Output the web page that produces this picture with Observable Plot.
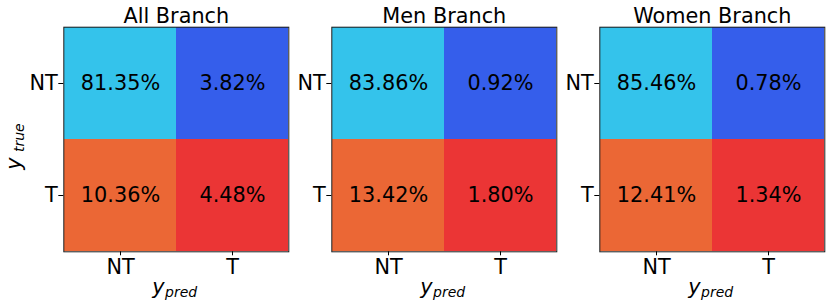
<!DOCTYPE html>
<html><head><meta charset="utf-8">
<script src="https://cdn.jsdelivr.net/npm/d3@7"></script>
<script src="https://cdn.jsdelivr.net/npm/@observablehq/plot@0.6"></script>
<style>
html,body{margin:0;padding:0;background:#fff;}
#chart{position:relative;width:830px;height:307px;overflow:hidden;}
#chart svg{position:absolute;top:0;}
</style></head><body><div id="chart"></div>
<script>
// Data
const branches = ["All Branch", "Men Branch", "Women Branch"];
const classLabels = ["NT", "T"];
// order: (true NT, pred NT), (true NT, pred T), (true T, pred NT), (true T, pred T)
const allBranch = [81.35, 3.82, 10.36, 4.48];
const menBranch = [83.86, 0.92, 13.42, 1.80];
const womenBranch = [85.46, 0.78, 12.41, 1.34];
const seriesValues = [allBranch, menBranch, womenBranch];
const cellKeys = ["NT-NT", "NT-T", "T-NT", "T-T"];

const palette = ["#34C3EB", "#355EEB", "#EB6735", "#EB3535"];
const layout = [
  {left: 0, width: 291, ml: 63.3, mr: 2.7},
  {left: 291, width: 268, ml: 40.3, mr: 2.7},
  {left: 559, width: 271, ml: 40.3, mr: 5.7}
];
const FS = 20.8;
const chart = document.getElementById("chart");

branches.forEach((branch, i) => {
  const vals = seriesValues[i];
  const rows = [];
  classLabels.forEach((t, ti) => classLabels.forEach((p, pi) => {
    rows.push({true: t, pred: p, key: cellKeys[ti * 2 + pi], value: vals[ti * 2 + pi]});
  }));
  const L = layout[i];
  const marks = [
    Plot.cell(rows, {x: "pred", y: "true", fill: "key"}),
    Plot.text(rows, {x: "pred", y: "true", text: d => d.value.toFixed(2) + "%", fill: "black", fontSize: FS}),
    Plot.frame({stroke: "#1a1a1a", strokeWidth: 1}),
    Plot.axisX({tickSize: 4, tickPadding: 3, label: null, fontSize: FS}),
    Plot.axisY({tickSize: 5, tickPadding: 1, label: null, fontSize: FS}),
    Plot.text([branch], {text: d => d, frameAnchor: "top", dy: -10.7, lineAnchor: "middle", fontSize: FS}),
    Plot.text(["y"], {text: d => d, frameAnchor: "bottom", textAnchor: "start", dx: -24.1, dy: 35.7, lineAnchor: "middle", fontSize: FS, fontStyle: "italic"}),
    Plot.text(["pred"], {text: d => d, frameAnchor: "bottom", textAnchor: "start", dx: -11.3, dy: 41.2, lineAnchor: "middle", fontSize: 14, fontStyle: "italic"})
  ];
  if (i === 0) {
    marks.push(
      Plot.text(["y"], {text: d => d, frameAnchor: "left", rotate: -90, textAnchor: "start", dx: -49.5, dy: 30.3, lineAnchor: "middle", fontSize: FS, fontStyle: "italic"}),
      Plot.text(["true"], {text: d => d, frameAnchor: "left", rotate: -90, textAnchor: "start", dx: -43.8, dy: 12.5, lineAnchor: "middle", fontSize: 14, fontStyle: "italic"})
    );
  }
  const svg = Plot.plot({
    width: L.width,
    height: 307,
    marginLeft: L.ml,
    marginRight: L.mr,
    marginTop: 26.7,
    marginBottom: 55.7,
    style: {fontFamily: "'DejaVu Sans', sans-serif", fontSize: FS + "px", color: "black", background: "transparent", overflow: "visible"},
    x: {domain: classLabels, padding: 0, label: null},
    y: {domain: classLabels, padding: 0, label: null},
    color: {domain: cellKeys, range: palette},
    marks
  });
  svg.style.left = L.left + "px";
  chart.appendChild(svg);
});
</script></body></html>
